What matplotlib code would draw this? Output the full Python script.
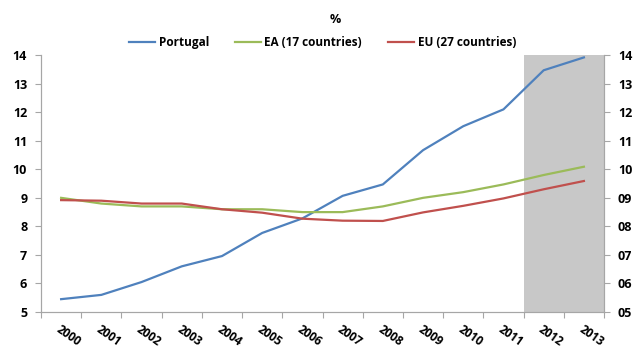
import numpy as np
import matplotlib
matplotlib.use('Agg')

import matplotlib.pyplot as plt

years = ['2000', '2001', '2002', '2003', '2004', '2005', '2006',
         '2007', '2008', '2009', '2010', '2011', '2012', '2013']
portugal = [5.45, 5.6, 6.05, 6.6, 6.96, 7.77, 8.28, 9.07, 9.47, 10.67, 11.51, 12.1, 13.47, 13.92]
ea17 = [9.0, 8.8, 8.7, 8.7, 8.6, 8.6, 8.5, 8.5, 8.7, 9.0, 9.2, 9.47, 9.8, 10.09]
eu27 = [8.92, 8.9, 8.8, 8.8, 8.6, 8.48, 8.27, 8.2, 8.19, 8.49, 8.72, 8.98, 9.3, 9.59]
forecast_years = ['2012', '2013']
y_ticks = [5, 6, 7, 8, 9, 10, 11, 12, 13, 14]


def main():
    plt.rcParams['font.family'] = ['Open Sans', 'DejaVu Sans']
    fig = plt.figure(figsize=(6.37, 3.49), dpi=100)
    ax = fig.add_axes([0.0644, 0.106, 0.8838, 0.736])

    x = np.arange(len(years))
    gray = '#a6a6a6'

    # shaded forecast years
    first = years.index(forecast_years[0])
    ax.axvspan(first - 0.5, len(years) - 0.5, color='#c8c8c8', lw=0, zorder=0)

    ax.plot(x, portugal, color='#4f81bd', lw=1.6, label='Portugal')
    ax.plot(x, ea17, color='#9bbb59', lw=1.6, label='EA (17 countries)')
    ax.plot(x, eu27, color='#c0504d', lw=1.6, label='EU (27 countries)')

    ax.set_xlim(-0.5, len(years) - 0.5)
    ax.set_ylim(5, 14)
    ax.set_yticks(y_ticks)
    ax.set_yticklabels([str(v) for v in y_ticks], fontsize=9, fontweight='bold')

    # category ticks sit on boundaries, labels at the centres
    ax.set_xticks(np.arange(len(years) + 1) - 0.5)
    ax.set_xticklabels([])
    ax.set_xticks(x, minor=True)
    ax.set_xticklabels(years, minor=True, rotation=-35, ha='left', va='top',
                       rotation_mode='anchor', fontsize=8.5, fontweight='bold')
    ax.tick_params(axis='x', which='minor', length=0, pad=8)
    ax.tick_params(axis='x', which='major', length=4, color=gray)
    ax.tick_params(axis='y', length=4, color=gray, pad=6)

    for side in ['top']:
        ax.spines[side].set_visible(False)
    for side in ['left', 'bottom', 'right']:
        ax.spines[side].set_color(gray)

    ax2 = ax.twinx()
    ax2.set_ylim(5, 14)
    ax2.set_yticks(y_ticks)
    ax2.set_yticklabels(['%02d' % v for v in y_ticks], fontsize=9, fontweight='bold')
    ax2.tick_params(axis='y', length=4, color=gray, pad=6)
    ax2.spines['top'].set_visible(False)
    for side in ['left', 'bottom', 'right']:
        ax2.spines[side].set_color(gray)

    fig.text(0.526, 0.945, '%', ha='center', va='center', fontsize=9, fontweight='bold')
    ax.legend(loc='lower center', bbox_to_anchor=(0.5, 1.0), ncol=3, frameon=False,
              fontsize=8.5, prop={'weight': 'bold', 'size': 8.5},
              handlelength=2.2, handletextpad=0.3, columnspacing=2.2,
              borderaxespad=0.1)

    fig.savefig('out.png', dpi=100)


if __name__ == "__main__":
    main()
